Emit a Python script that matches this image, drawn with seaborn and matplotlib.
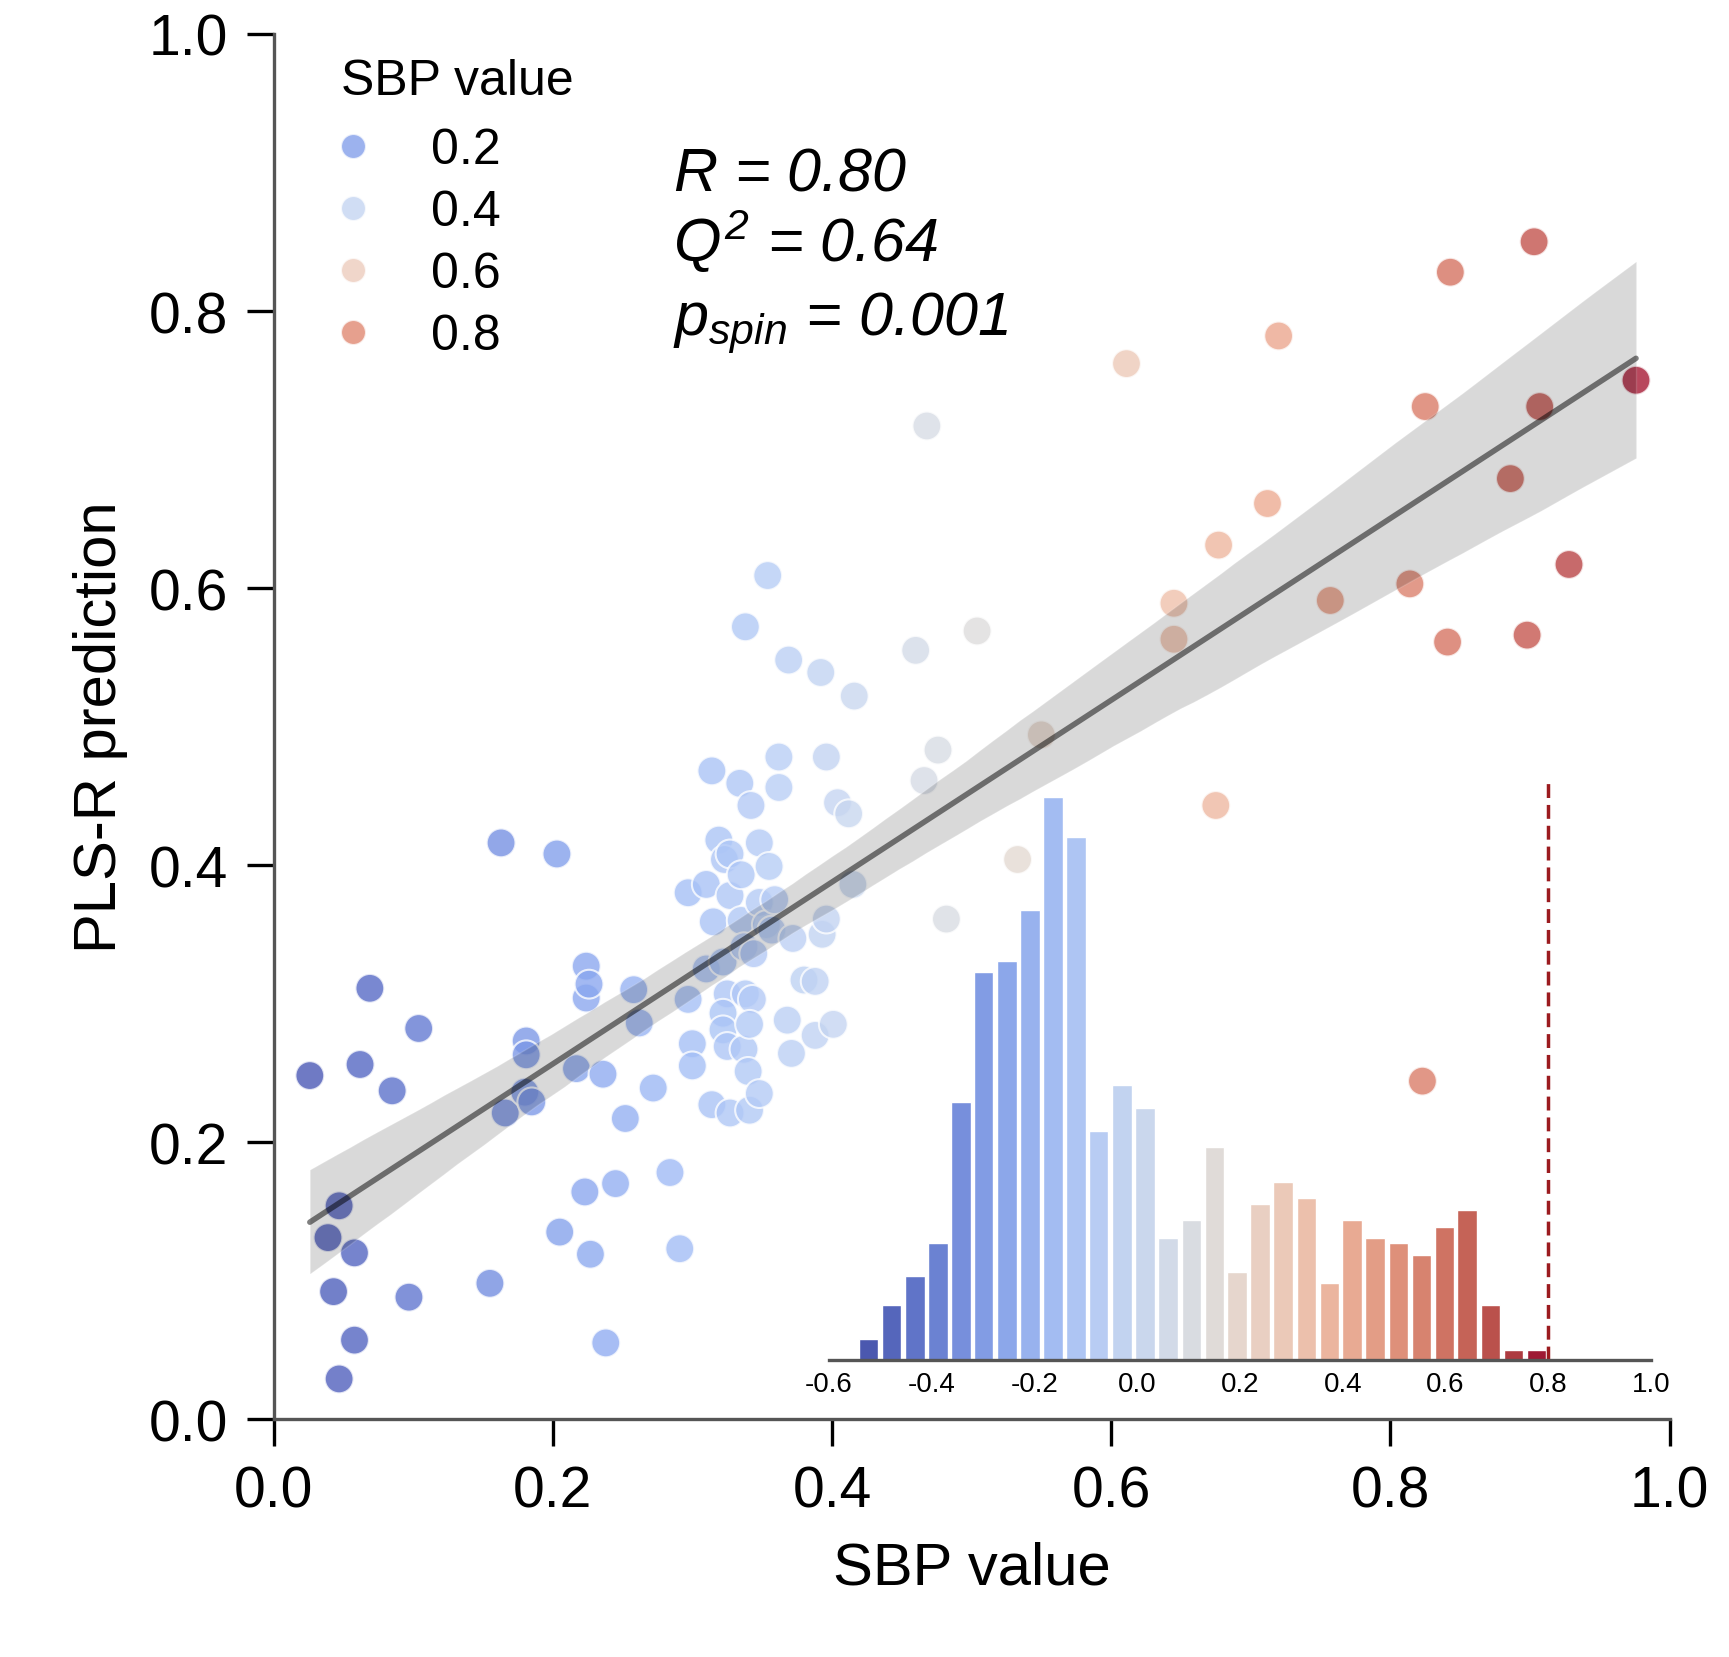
import matplotlib
matplotlib.use("Agg")
import numpy as np
import pandas as pd
import matplotlib.pyplot as plt
import seaborn as sns
from matplotlib.colors import ListedColormap

# %% data ---------------------------------------------------------------
sbp_value = [0.026, 0.047, 0.039, 0.058, 0.043, 0.058, 0.047, 0.069, 0.062, 0.085,
             0.104, 0.097, 0.155, 0.163, 0.166, 0.181, 0.181, 0.180, 0.185, 0.203,
             0.205, 0.217, 0.224, 0.224, 0.226, 0.223, 0.227, 0.236, 0.238, 0.245,
             0.252, 0.258, 0.262, 0.272, 0.284, 0.291,
             0.314, 0.297, 0.310, 0.297, 0.300, 0.300, 0.314, 0.310, 0.315, 0.319,
             0.323, 0.327, 0.327, 0.322, 0.325, 0.322, 0.322, 0.325, 0.327, 0.334,
             0.338, 0.335, 0.335, 0.337, 0.338, 0.337, 0.340, 0.341, 0.342, 0.344,
             0.343, 0.341, 0.348, 0.348, 0.348, 0.354, 0.355, 0.353, 0.359, 0.357,
             0.362, 0.362, 0.368, 0.369, 0.372, 0.371, 0.380, 0.388, 0.388, 0.392,
             0.393, 0.396, 0.396, 0.401, 0.404, 0.412, 0.416, 0.415,
             0.468, 0.460, 0.466, 0.476, 0.482, 0.504, 0.550, 0.533,
             0.611, 0.645, 0.645, 0.677, 0.675, 0.712, 0.720, 0.757, 0.814, 0.825,
             0.823, 0.841, 0.843, 0.886, 0.898, 0.903, 0.907, 0.928, 0.976]
pls_prediction = [0.248, 0.154, 0.131, 0.120, 0.092, 0.057, 0.029, 0.311, 0.256, 0.237,
                  0.282, 0.088, 0.098, 0.416, 0.221, 0.273, 0.263, 0.236, 0.229, 0.408,
                  0.135, 0.253, 0.327, 0.304, 0.314, 0.164, 0.119, 0.249, 0.055, 0.170,
                  0.217, 0.310, 0.286, 0.239, 0.178, 0.123,
                  0.468, 0.380, 0.386, 0.303, 0.271, 0.255, 0.227, 0.325, 0.359, 0.418,
                  0.404, 0.408, 0.378, 0.330, 0.307, 0.293, 0.281, 0.269, 0.221, 0.459,
                  0.572, 0.393, 0.360, 0.341, 0.307, 0.267, 0.251, 0.223, 0.443, 0.336,
                  0.303, 0.285, 0.416, 0.373, 0.235, 0.609, 0.399, 0.357, 0.375, 0.353,
                  0.478, 0.456, 0.288, 0.548, 0.347, 0.264, 0.317, 0.316, 0.277, 0.539,
                  0.350, 0.478, 0.361, 0.285, 0.445, 0.437, 0.522, 0.386,
                  0.717, 0.555, 0.461, 0.483, 0.361, 0.569, 0.494, 0.404,
                  0.762, 0.589, 0.563, 0.631, 0.443, 0.661, 0.782, 0.591, 0.603, 0.731,
                  0.244, 0.561, 0.828, 0.679, 0.566, 0.850, 0.731, 0.617, 0.750]

# spin null distribution (inset histogram)
bin_centers = [-0.523, -0.478, -0.433, -0.388, -0.343, -0.299, -0.254, -0.209, -0.164, -0.119,
               -0.075, -0.030, 0.015, 0.060, 0.105, 0.150, 0.194, 0.239, 0.284, 0.329,
               0.374, 0.418, 0.463, 0.508, 0.553, 0.598, 0.642, 0.687, 0.732, 0.777]
bin_counts = [2.2, 5.8, 8.9, 12.5, 27.5, 41.3, 42.5, 48.0, 60.0, 55.8,
              24.4, 29.3, 26.9, 13.0, 14.9, 22.7, 9.4, 16.6, 19.0, 17.2,
              8.2, 14.9, 13.0, 12.5, 11.2, 14.2, 16.0, 5.8, 1.0, 1.0]
r_observed = 0.80

inset_ticks = [-0.6, -0.4, -0.2, 0.0, 0.2, 0.4, 0.6, 0.8, 1.0]
main_ticks = [0.0, 0.2, 0.4, 0.6, 0.8, 1.0]

df = pd.DataFrame({"SBP value": sbp_value, "PLS-R prediction": pls_prediction})

# %% style ----------------------------------------------------------------
sns.set_style("ticks")
plt.rcParams["font.family"] = ["Liberation Sans", "DejaVu Sans"]
for key in ["text.color", "axes.labelcolor", "xtick.color", "ytick.color"]:
    plt.rcParams[key] = "black"
plt.rcParams["axes.unicode_minus"] = False
plt.rcParams["mathtext.fontset"] = "custom"
plt.rcParams["mathtext.it"] = "Liberation Sans:italic"
plt.rcParams["mathtext.rm"] = "Liberation Sans:italic"
plt.rcParams["mathtext.default"] = "it"

spine_col = "#555555"
cmap = ListedColormap(sns.color_palette("coolwarm", 256, desat=0.82))

fig = plt.figure(figsize=(17.29, 16.58), dpi=100)
ax = fig.add_axes([0.1582, 0.1435, 0.8074, 0.8354])

# %% scatter + regression -------------------------------------------------
sns.scatterplot(data=df, x="SBP value", y="PLS-R prediction", hue="SBP value",
                palette=cmap, s=430, alpha=0.78, edgecolor="white", linewidth=1.5, ax=ax)
sns.regplot(data=df, x="SBP value", y="PLS-R prediction", scatter=False, color="black",
            line_kws={"alpha": 0.5, "lw": 4}, seed=0, ax=ax)

ax.set_xlim(0, 1)
ax.set_ylim(0, 1)
ax.set_xticks(main_ticks)
ax.set_yticks(main_ticks)
ax.xaxis.set_major_formatter(matplotlib.ticker.FormatStrFormatter("%.1f"))
ax.yaxis.set_major_formatter(matplotlib.ticker.FormatStrFormatter("%.1f"))
sns.despine(ax=ax)
for side in ["left", "bottom"]:
    ax.spines[side].set_color(spine_col)
    ax.spines[side].set_linewidth(2.4)
ax.tick_params(length=19.5, width=2.4, color="black", labelsize=41, pad=13)
ax.set_xlabel("SBP value", fontsize=43, labelpad=16)
ax.set_ylabel("PLS-R prediction", fontsize=43, labelpad=15)

# stats text
ax.text(0.286, 0.888, r"$R$ = 0.80", transform=ax.transAxes, fontsize=44, style="italic", va="baseline")
ax.text(0.286, 0.836, r"$Q^2$ = 0.64", transform=ax.transAxes, fontsize=44, style="italic", va="baseline")
ax.text(0.286, 0.783, r"$p_{spin}$ = 0.001", transform=ax.transAxes, fontsize=44, style="italic", va="baseline")

# legend
sns.move_legend(ax, "upper left", bbox_to_anchor=(0.0355, 0.9956), frameon=False,
                fontsize=36, title_fontsize=36, alignment="left", handlelength=0.5,
                handletextpad=1.3, labelspacing=0.32, borderaxespad=0, borderpad=0.35)
leg = ax.get_legend()
for h in leg.legend_handles:
    h.set_markersize(18)
leg._legend_box.sep = 17  # a bit more room under the title

# %% inset histogram ------------------------------------------------------
axin = fig.add_axes([0.4795, 0.1793, 0.4754, 0.3393])
axin.patch.set_alpha(0)
sns.barplot(x=bin_centers, y=bin_counts, hue=bin_centers, palette="coolwarm",
            native_scale=True, legend=False, width=0.86, edgecolor="white",
            linewidth=1, ax=axin)
axin.axvline(r_observed, 0, 1.027, color="#9b1b1f", lw=2.5, ls=(0, (4, 2)), clip_on=False)
axin.set_xlim(-0.6, 1.0)
axin.set_ylim(0, 60)
axin.set_xticks(inset_ticks)
axin.xaxis.set_major_formatter(matplotlib.ticker.FormatStrFormatter("%.1f"))
axin.set_yticks([])
axin.set_xlabel("")
axin.set_ylabel("")
for side in ["top", "right", "left"]:
    axin.spines[side].set_visible(False)
axin.spines["bottom"].set_color(spine_col)
axin.spines["bottom"].set_linewidth(2.4)
axin.tick_params(axis="x", length=0, labelsize=20, pad=8)

fig.savefig("out.png", dpi=100)
plt.close("all")
